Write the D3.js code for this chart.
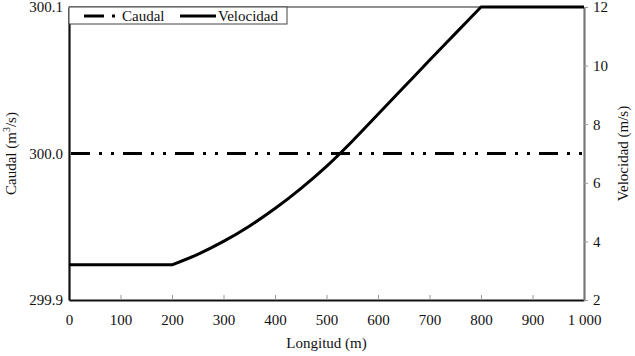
<!DOCTYPE html>
<html><head><meta charset="utf-8">
<script src="https://cdn.jsdelivr.net/npm/d3@7"></script>
<style>body{margin:0;background:#fff}svg{display:block}text{font-family:"Liberation Serif","DejaVu Serif",serif;}</style>
</head><body>
<svg id="c" width="635" height="356"></svg>
<script>
const longitud = [0, 200, 250, 300, 350, 400, 450, 500, 550, 600, 650, 700, 750, 800, 1000];
const velocidad = [3.2, 3.2, 3.56, 4.0, 4.52, 5.12, 5.8, 6.56, 7.42, 8.34, 9.26, 10.18, 11.09, 12, 12];
const caudalX = [0, 1000];
const caudal = [300.0, 300.0];
const xTicks = [0,100,200,300,400,500,600,700,800,900,1000];
const leftTicks = [299.9, 300.0, 300.1];
const rightTicks = [2,4,6,8,10,12];

const svg = d3.select("#c");
const L = 69, R = 584, T = 7, B = 300;
const x = d3.scaleLinear().domain([0,1000]).range([L,R]);
const yL = d3.scaleLinear().domain([299.9,300.1]).range([B,T]);
const yR = d3.scaleLinear().domain([2,12]).range([B,T]);
const fs = 15;

// top border
svg.append("line").attr("x1",L).attr("x2",R).attr("y1",T).attr("y2",T).attr("stroke","#222").attr("stroke-width",1.2);

// bottom axis
const xa = svg.append("g").attr("transform",`translate(0,${B})`)
  .call(d3.axisBottom(x).tickValues(xTicks).tickSizeInner(-5).tickSizeOuter(0).tickPadding(14)
    .tickFormat(d => d===1000 ? "1 000" : String(d)));
xa.select(".domain").attr("stroke","#111").attr("stroke-width",2.2);
xa.selectAll(".tick line").attr("stroke","#999").attr("stroke-width",1);
xa.selectAll("text").attr("font-size",fs).attr("fill","#111").attr("font-family","Liberation Serif");

// left axis
const la = svg.append("g").attr("transform",`translate(${L},0)`)
  .call(d3.axisLeft(yL).tickValues(leftTicks).tickSize(0).tickPadding(6).tickFormat(d3.format(".1f")));
la.select(".domain").attr("stroke","#111").attr("stroke-width",2.2);
la.selectAll("text").attr("font-size",fs).attr("fill","#111").attr("font-family","Liberation Serif");

// right axis
const ra = svg.append("g").attr("transform",`translate(${R},0)`)
  .call(d3.axisRight(yR).tickValues(rightTicks).tickSizeInner(4).tickSizeOuter(0).tickPadding(5));
ra.select(".domain").attr("stroke","#777").attr("stroke-width",2.2);
ra.selectAll(".tick line").attr("stroke","#999");
ra.selectAll("text").attr("font-size",fs).attr("fill","#111").attr("font-family","Liberation Serif");

// caudal line
svg.append("path").datum(caudalX.map((d,i)=>[d,caudal[i]]))
  .attr("d", d3.line().x(d=>x(d[0])).y(d=>yL(d[1])))
  .attr("fill","none").attr("stroke","#000").attr("stroke-width",3)
  .attr("stroke-dasharray","19,9,3,9,3,9").attr("stroke-dashoffset",-2);

// velocidad line: flat start, smooth ramp, flat end
const pts = longitud.map((d,i)=>[d,velocidad[i]]);
const ramp = pts.filter(p => p[0] >= 200 && p[0] <= 800);
const startFlat = pts.filter(p => p[0] <= 200);
const endFlat = pts.filter(p => p[0] >= 800);
const lineLin = d3.line().x(d=>x(d[0])).y(d=>yR(d[1]));
const lineSm = d3.line().x(d=>x(d[0])).y(d=>yR(d[1])).curve(d3.curveMonotoneX);
svg.append("path").attr("d", lineLin(startFlat) + lineSm(ramp).replace(/^M[^C L]+/, "") + "L" + lineLin(endFlat).slice(1).split("L").slice(1).join("L"))
  .attr("fill","none").attr("stroke","#000").attr("stroke-width",3).attr("stroke-linejoin","round");

// legend
const lg = svg.append("g");
lg.append("rect").attr("x",L).attr("y",T).attr("width",218).attr("height",17)
  .attr("fill","#fff").attr("stroke","#444").attr("stroke-width",1);
lg.append("line").attr("x1",84).attr("x2",104).attr("y1",16).attr("y2",16).attr("stroke","#000").attr("stroke-width",3);
lg.append("rect").attr("x",112).attr("y",14.5).attr("width",3).attr("height",3).attr("fill","#000");
lg.append("text").attr("x",122).attr("y",21).attr("font-size",fs).attr("fill","#111").text("Caudal");
lg.append("line").attr("x1",180).attr("x2",216).attr("y1",16).attr("y2",16).attr("stroke","#000").attr("stroke-width",3);
lg.append("text").attr("x",218).attr("y",21).attr("font-size",fs).attr("fill","#111").text("Velocidad");

// axis titles
svg.append("text").attr("x",(L+R)/2).attr("y",348).attr("text-anchor","middle").attr("font-size",fs).attr("fill","#111").text("Longitud (m)");
const lt = svg.append("text").attr("transform",`translate(16,${(T+B)/2}) rotate(-90)`).attr("text-anchor","middle").attr("font-size",fs).attr("fill","#111");
lt.append("tspan").text("Caudal (m");
lt.append("tspan").attr("dy",-6).attr("font-size",10).text("3");
lt.append("tspan").attr("dy",6).text("/s)");
svg.append("text").attr("transform",`translate(628,${(T+B)/2}) rotate(-90)`).attr("text-anchor","middle").attr("font-size",fs).attr("fill","#111").text("Velocidad (m/s)");
</script>
</body></html>
